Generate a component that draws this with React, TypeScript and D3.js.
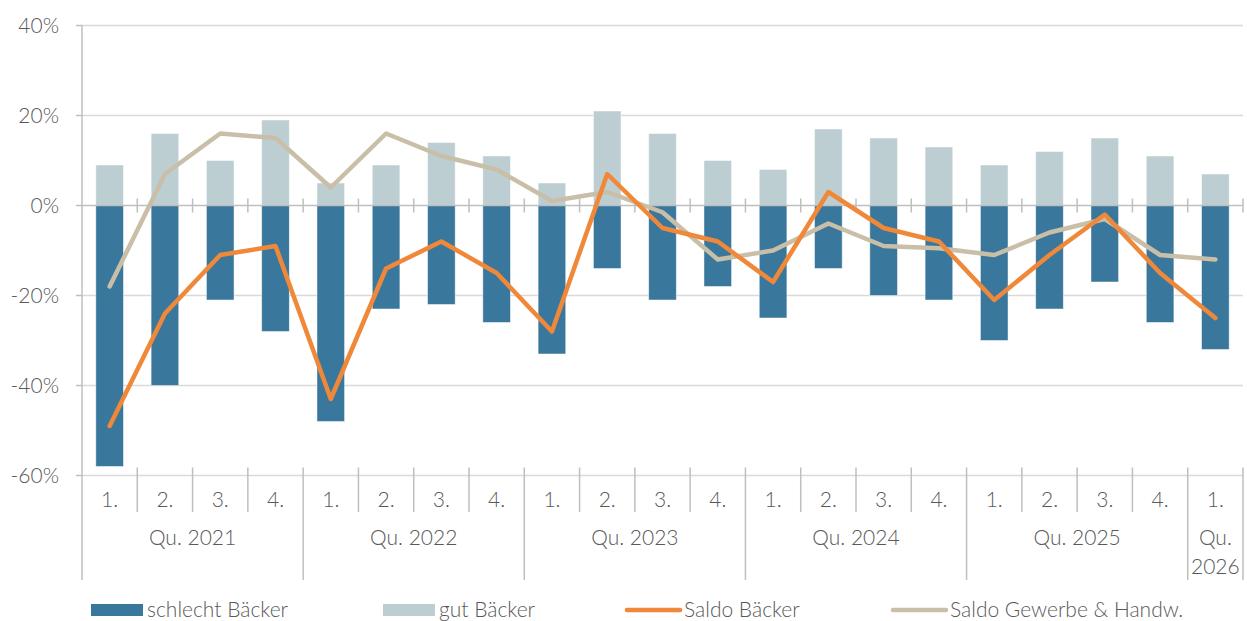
import * as d3 from "d3";

// quarter labels and year groups
const quarters = [
  "1.", "2.", "3.", "4.",
  "1.", "2.", "3.", "4.",
  "1.", "2.", "3.", "4.",
  "1.", "2.", "3.", "4.",
  "1.", "2.", "3.", "4.",
  "1.",
];
const yearGroups = [
  { label: ["Qu. 2021"], count: 4 },
  { label: ["Qu. 2022"], count: 4 },
  { label: ["Qu. 2023"], count: 4 },
  { label: ["Qu. 2024"], count: 4 },
  { label: ["Qu. 2025"], count: 4 },
  { label: ["Qu.", "2026"], count: 1 },
];

// values in %
const schlechtBaecker = [-58, -40, -21, -28, -48, -23, -22, -26, -33, -14, -21, -18, -25, -14, -20, -21, -30, -23, -17, -26, -32];
const gutBaecker = [9, 16, 10, 19, 5, 9, 14, 11, 5, 21, 16, 10, 8, 17, 15, 13, 9, 12, 15, 11, 7];
const saldoBaecker = [-49, -24, -11, -9, -43, -14, -8, -15, -28, 7, -5, -8, -17, 3, -5, -8, -21, -11, -2, -15, -25];
const saldoGewerbe = [-18, 7, 16, 15, 4, 16, 11, 8, 1, 3, -1.5, -12, -10, -4, -9, -9.5, -11, -6, -3, -11, -12];

const yTicks = [-60, -40, -20, 0, 20, 40];

const legendItems = [
  { label: "schlecht Bäcker", type: "rect", color: "#3A779C", x: 91 },
  { label: "gut Bäcker", type: "rect", color: "#BDCED3", x: 383 },
  { label: "Saldo Bäcker", type: "line", color: "#F0883A", x: 625 },
  { label: "Saldo Gewerbe & Handw.", type: "line", color: "#C9BFA8", x: 891 },
];

const W = 1247;
const H = 621;
const left = 82;
const right = 1243;
const FONT = "Lato, 'Open Sans', sans-serif";
const TXT = "#595959";

export default function App() {
  const idx = quarters.map((_, i) => String(i));

  const x = d3
    .scaleBand<string>()
    .domain(idx)
    .range([left, right])
    .paddingInner(0.5)
    .paddingOuter(0.25);
  const step = x.step();
  const cx = (i: number) => x(String(i))! + x.bandwidth() / 2;

  const y = d3.scaleLinear().domain([-60, 40]).range([475.5, 25.5]);

  const line = d3
    .line<number>()
    .x((_, i) => cx(i))
    .y((d) => y(d));

  const axisTop = y(-60);

  // group boundaries
  const boundaries: number[] = [0];
  yearGroups.forEach((g) => boundaries.push(boundaries[boundaries.length - 1] + g.count));

  return (
    <svg
      width={W}
      height={H}
      style={{ position: "absolute", left: 0, top: 0, background: "#fff" }}
      fontFamily={FONT}
    >
      {/* gridlines */}
      {yTicks
        .filter((t) => t !== 0)
        .map((t) => (
          <line key={t} x1={left} x2={right} y1={y(t)} y2={y(t)} stroke="#D9D9D9" strokeWidth={1.5} />
        ))}

      {/* y tick marks + labels */}
      {yTicks.map((t) => (
        <g key={"yt" + t}>
          <line x1={left - 6} x2={left} y1={y(t)} y2={y(t)} stroke="#BFBFBF" strokeWidth={1.5} />
          <text x={59} y={y(t)} dy="0.35em" textAnchor="end" fontSize={21} fontWeight={300} fill={TXT}>
            {t}%
          </text>
        </g>
      ))}

      {/* bars */}
      {gutBaecker.map((v, i) => (
        <rect
          key={"g" + i}
          x={x(String(i))}
          width={x.bandwidth()}
          y={y(v)}
          height={y(0) - y(v)}
          fill="#BDCED3"
          stroke="#fff"
          strokeOpacity={0.6}
          strokeWidth={0.8}
        />
      ))}
      {schlechtBaecker.map((v, i) => (
        <rect
          key={"s" + i}
          x={x(String(i))}
          width={x.bandwidth()}
          y={y(0)}
          height={y(v) - y(0)}
          fill="#3A779C"
          stroke="#fff"
          strokeOpacity={0.6}
          strokeWidth={0.8}
        />
      ))}

      {/* zero line with crossing ticks */}
      <line x1={left} x2={right} y1={y(0)} y2={y(0)} stroke="#BFBFBF" strokeWidth={1.5} />
      {quarters.map((_, i) => (
        <line
          key={"zt" + i}
          x1={left + step * (i + 1)}
          x2={left + step * (i + 1)}
          y1={y(0) - 7}
          y2={y(0) + 7}
          stroke="#BFBFBF"
          strokeWidth={1.5}
        />
      ))}

      {/* lines */}
      <path
        d={line(saldoGewerbe) ?? ""}
        fill="none"
        stroke="#C9BFA8"
        strokeWidth={4.5}
        strokeLinejoin="round"
        strokeLinecap="round"
      />
      <path
        d={line(saldoBaecker) ?? ""}
        fill="none"
        stroke="#F0883A"
        strokeWidth={4.5}
        strokeLinejoin="round"
        strokeLinecap="round"
      />

      {/* left axis */}
      <line x1={left} x2={left} y1={25} y2={580} stroke="#BFBFBF" strokeWidth={1.5} />

      {/* category axis */}
      {quarters.map((_, i) => {
        const k = i + 1;
        const isGroup = boundaries.includes(k);
        return (
          <line
            key={"sep" + i}
            x1={left + step * k}
            x2={left + step * k}
            y1={axisTop - 8}
            y2={isGroup ? 580 : 512}
            stroke="#BFBFBF"
            strokeWidth={1.5}
          />
        );
      })}
      {quarters.map((q, i) => (
        <text key={"q" + i} x={cx(i)} y={507} textAnchor="middle" fontSize={21} fontWeight={300} fill={TXT}>
          {q}
        </text>
      ))}
      {yearGroups.map((g, gi) => {
        const x0 = left + step * boundaries[gi];
        const x1 = left + step * boundaries[gi + 1];
        return (
          <text key={"yg" + gi} x={(x0 + x1) / 2} y={545} textAnchor="middle" fontSize={21} fontWeight={300} fill={TXT}>
            {g.label.map((l, li) => (
              <tspan key={li} x={(x0 + x1) / 2} dy={li === 0 ? 0 : 29}>
                {l}
              </tspan>
            ))}
          </text>
        );
      })}

      {/* legend */}
      {legendItems.map((it) => (
        <g key={it.label}>
          {it.type === "rect" ? (
            <rect x={it.x} y={604} width={52} height={12} fill={it.color} />
          ) : (
            <line
              x1={it.x + 2}
              x2={it.x + 55}
              y1={610}
              y2={610}
              stroke={it.color}
              strokeWidth={4.5}
              strokeLinecap="round"
            />
          )}
          <text
            x={it.x + (it.type === "rect" ? 56 : 59)}
            y={610}
            dy="0.35em"
            fontSize={21}
            fontWeight={300}
            fill={TXT}
          >
            {it.label}
          </text>
        </g>
      ))}
    </svg>
  );
}
